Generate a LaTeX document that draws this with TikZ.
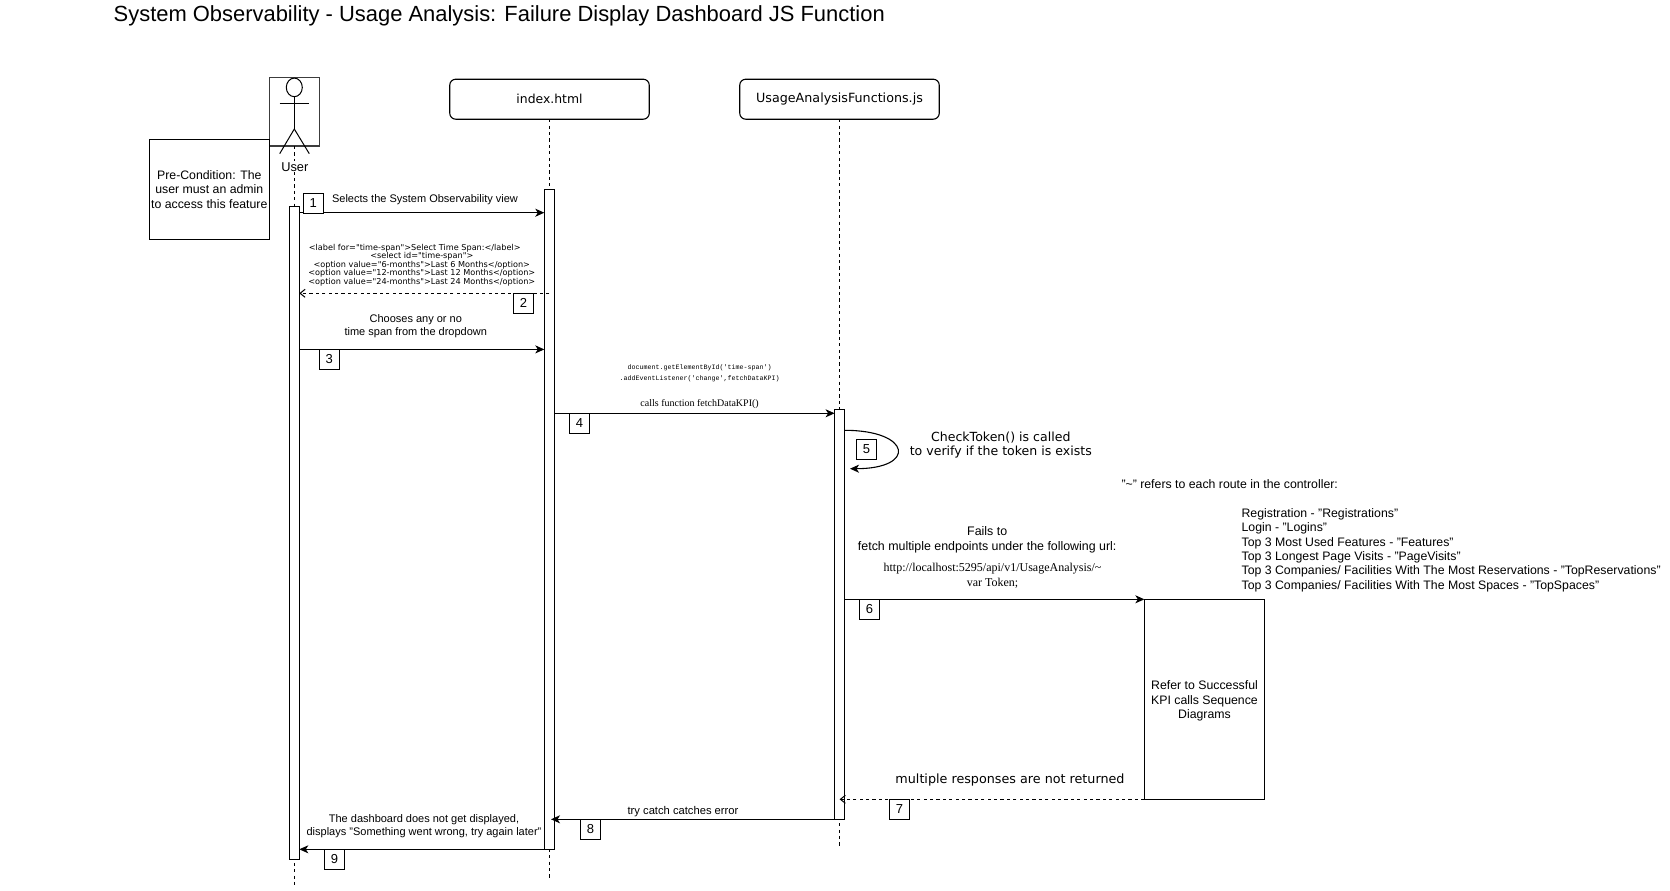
\documentclass[tikz,border=0pt]{standalone}
\usepackage{fontspec}
\setmainfont{Liberation Sans}
\newfontfamily\dejavu{DejaVu Sans}
\newfontfamily\timesfont{Liberation Serif}
\newfontfamily\monofont{Liberation Mono}
\usetikzlibrary{arrows.meta,calc}
\definecolor{actorgray}{RGB}{60, 60, 60}

\tikzset{
  lane/.style={draw, rounded corners=6pt, line width=1.1pt, outer sep=0pt, minimum width=199.5pt, minimum height=40pt, inner sep=0pt, font=\dejavu\fontsize{12.4}{14}\selectfont},
  lifeline/.style={line width=1pt, dash pattern=on 3.2pt off 3.2pt},
  actbar/.style={draw, fill=white, line width=1.1pt, outer sep=0pt, minimum width=10pt, inner sep=0pt},
  msg/.style={-{Stealth[length=9pt,width=8pt,inset=2.5pt]}, line width=1.1pt},
  reply/.style={-{Straight Barb[length=5pt,width=8pt]}, line width=1pt, dash pattern=on 3.2pt off 3.2pt},
  numbox/.style={draw, fill=white, line width=1pt, minimum size=20pt, inner sep=0pt, font=\fontsize{13}{14}\selectfont},
  txt/.style={inner sep=0pt, align=center, font=\fontsize{12.3}{14.4}\selectfont},
  msgtxt/.style={inner sep=0pt, align=center, font=\fontsize{11}{13.4}\selectfont},
  notebox/.style={draw, line width=1.1pt, outer sep=0pt, inner sep=0pt, align=center, font=\fontsize{12.3}{14.4}\selectfont}
}

\begin{document}
\begin{tikzpicture}[x=1pt, y=-1pt]
  \useasboundingbox (0,0) rectangle (1670,891);

  % Title
  \node[inner sep=0pt, anchor=west, font=\fontsize{21.93}{24}\selectfont] (title) at (113.5,15.7) {System Observability - Usage Analysis: Failure Display Dashboard JS Function};

  % Lane heads
  \node[draw=actorgray, line width=1.1pt, minimum width=50.4pt, minimum height=68.3pt, inner sep=0pt, outer sep=0pt] (user) at (294.5,111.8) {};
  \node[lane] (index) at (549.5,99.2) {\raisebox{-1pt}{index.html}};
  \node[lane, font=\dejavu\fontsize{12.7}{14}\selectfont] (usagejs) at (839.5,99.2) {\raisebox{-1pt}{UsageAnalysisFunctions.js}};

  % Lifelines
  \coordinate (userend) at (294.3,887);
  \coordinate (indexend) at (549.5,878);
  \coordinate (usagejsend) at (839.5,848);
  \draw[lifeline] (user.south -| userend) -- (userend);
  \draw[lifeline] (index.south) -- (indexend);
  \draw[lifeline] (usagejs.south) -- (usagejsend);

  % Stick figure
  \draw[line width=1pt] (294.3,87.4) ellipse [x radius=8, y radius=9.3];
  \draw[line width=1pt] (294.3,96.7) -- (294.3,129);
  \draw[line width=1pt] (279.7,103.3) -- (309.3,103.3);
  \draw[line width=1pt] (279.7,153.7) -- (294.3,129) -- (309.3,153.7);
  \node[inner sep=1pt, fill=white, font=\fontsize{12.8}{14}\selectfont] (userlabel) at (294.8,166.7) {User};

  % Pre-condition
  \node[notebox, minimum width=120pt, minimum height=100pt] (precond) at (209.3,189.3) {Pre-Condition: The\\user must an admin\\to access this feature};

  % Activation bars
  \node[actbar, minimum height=653.3pt] (userbar) at (294.3,532.7) {};
  \node[actbar, minimum height=660pt] (indexbar) at (549.3,519.3) {};
  \node[actbar, minimum height=410pt] (usagejsbar) at (839.6,614.3) {};

  % Message heights
  \coordinate (m1) at (0,212.7);
  \coordinate (m2) at (0,293.3);
  \coordinate (m3) at (0,349.4);
  \coordinate (m4) at (0,413.3);
  \coordinate (m5) at (0,430.3);
  \coordinate (m7) at (0,799.3);
  \coordinate (m8) at (0,819.3);
  \coordinate (m9) at (0,849.3);
  \coordinate (loopend) at (850,468.7);
  \coordinate (m8tip) at (551,819.3);

  % Refer box
  \node[notebox, minimum width=120.3pt, minimum height=200pt] (refer) at (1204.5,699.3) {\rule{0pt}{12.5pt}Refer to Successful\\KPI calls Sequence\\Diagrams};

  % Messages
  \draw[msg] (userbar.east |- m1) -- (indexbar.west |- m1);
  \draw[reply] (indexbar.center |- m2) -- (userbar.east |- m2);
  \draw[msg] (userbar.east |- m3) -- (indexbar.west |- m3);
  \draw[msg] (indexbar.east |- m4) -- (usagejsbar.west |- m4);
  \draw[msg] (usagejsbar.east |- m5) to[out=0, in=0, distance=67pt] (loopend);
  \draw[msg] (usagejsbar.east |- refer.north) -- (refer.north west);
  \draw[reply] (refer.west |- m7) -- (usagejsbar.center |- m7);
  \draw[msg] (usagejsbar.west |- m8) -- (m8tip);
  \draw[msg] (indexbar.west |- m9) -- (userbar.east |- m9);

  % Step numbers
  \foreach \n/\x/\y in {1/313.3/203.3, 2/523.5/303.3, 3/329.3/359.5, 4/579.6/423.3, 5/866.6/449.3, 6/869.5/609.3, 7/899.5/809.3, 8/590.5/829.3, 9/334.6/859.3}
    \node[numbox] (num\n) at (\x,\y) {\n};

  % Message texts
  \node[msgtxt] (selects) at (425,199.3) {Selects the System Observability view};
  \node[inner sep=0pt, align=center, font=\dejavu\fontsize{8.14}{8.6}\selectfont] (htmltext) at (421.8,265) {<label for="time-span">Select Time Span:</label>\hspace*{14pt}\\<select id="time-span">\hspace*{14pt}\\<option value="6-months">Last 6 Months</option>\\<option value="12-months">Last 12 Months</option>\\<option value="24-months">Last 24 Months</option>};
  \node[msgtxt] (chooses) at (415.8,326) {Chooses any or no\\time span from the dropdown};
  \node[inner sep=0pt, align=center, font=\monofont\fontsize{6.67}{11}\selectfont] (listener) at (699.6,372.8) {document.getElementById('time-span')\\.addEventListener('change',fetchDataKPI)};
  \node[inner sep=0pt, font=\timesfont\fontsize{10}{12}\selectfont] (calls) at (699.6,403.7) {calls function fetchDataKPI()};
  \node[inner sep=0pt, align=center, font=\dejavu\fontsize{12.55}{14}\selectfont] (checktoken) at (1000.8,445) {CheckToken() is called\\to verify if the token is exists};
  \node[txt, font=\fontsize{12.4}{15}\selectfont] (fails) at (987.2,540.2) {Fails to\\fetch multiple endpoints under the following url:};
  \node[inner sep=0pt, align=center, font=\timesfont\fontsize{12}{15.2}\selectfont] (url) at (992.5,575.8) {http://localhost:5295/api/v1/UsageAnalysis/\textasciitilde\\var Token;};
  \node[txt] (refers) at (1229.7,484) {"\textasciitilde" refers to each route in the controller:};
  \node[txt, align=left, anchor=north west] (routes) at (1241.4,508.2) {Registration - "Registrations"\\Login - "Logins"\\Top 3 Most Used Features - "Features"\\Top 3 Longest Page Visits - "PageVisits"\\Top 3 Companies/ Facilities With The Most Reservations - "TopReservations"\\Top 3 Companies/ Facilities With The Most Spaces - "TopSpaces"};
  \node[inner sep=0pt, font=\dejavu\fontsize{12.74}{14}\selectfont] (noresponse) at (1010,780) {multiple responses are not returned};
  \node[msgtxt, font=\fontsize{11.2}{13.4}\selectfont] (trycatch) at (683,812) {try catch catches error};
  \node[msgtxt] (displays) at (424,826) {The dashboard does not get displayed,\\displays "Something went wrong, try again later"};
\end{tikzpicture}
\end{document}
